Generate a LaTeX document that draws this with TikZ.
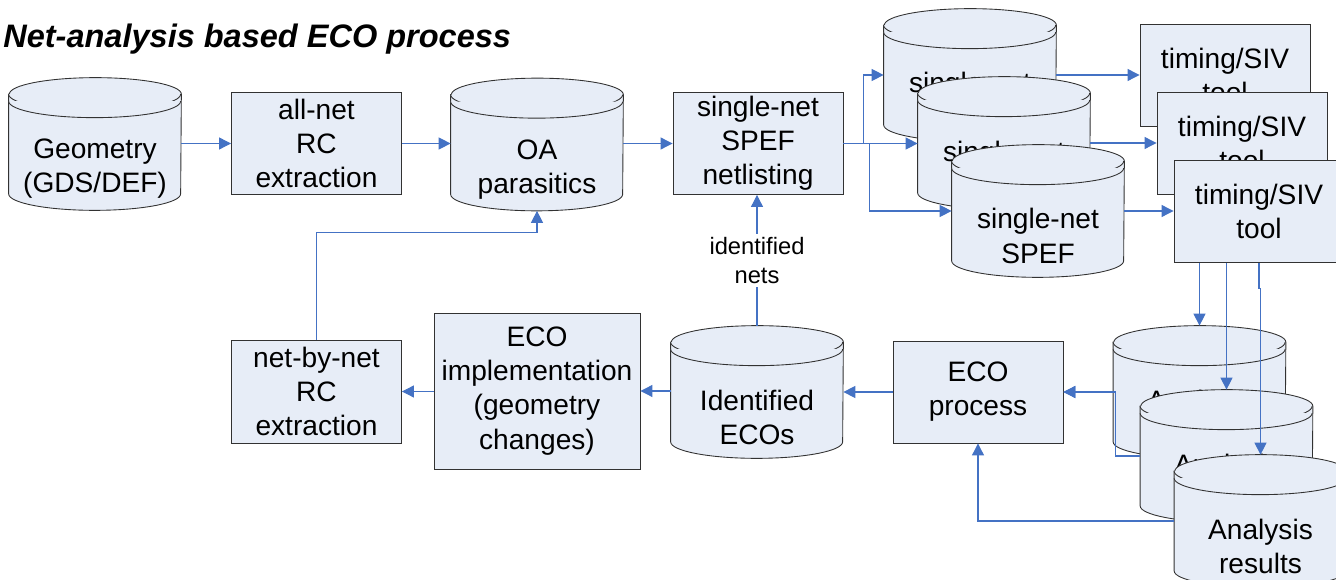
\documentclass[tikz,border=0pt]{standalone}
\usepackage{fontspec}
\setmainfont{Liberation Sans}
\usetikzlibrary{arrows.meta}
\usetikzlibrary{calc}

\definecolor{boxfill}{RGB}{231,237,247}
\definecolor{boxline}{RGB}{50,50,50}
\definecolor{linkblue}{RGB}{68,114,196}

\newcommand{\bodyfont}{\fontsize{16}{19.4}\selectfont}
\newcommand{\labelfont}{\fontsize{13.5}{16.5}\selectfont}

% database cylinder: name, centre, text
\newcommand{\dbcyl}[3]{%
  \node[dbarea] (#1) at (#2) {};
  \filldraw[dbline]
    ([yshift=-0.33cm]#1.north west) -- ([yshift=0.33cm]#1.south west)
    arc[start angle=180, end angle=360, x radius=1.72cm, y radius=0.33cm]
    -- ([yshift=-0.33cm]#1.north east)
    arc[start angle=0, end angle=180, x radius=1.72cm, y radius=0.33cm] -- cycle;
  \draw[dbline] ([yshift=-0.33cm]#1.north west)
    arc[start angle=180, end angle=360, x radius=1.72cm, y radius=0.33cm];
  \draw[dbline] ([yshift=-0.47cm]#1.north west)
    arc[start angle=180, end angle=360, x radius=1.72cm, y radius=0.33cm];
  \node[dbtext] (#1-t) at ([yshift=-0.5cm]#1.center) {#3};
}

\tikzset{
  procbox/.style={draw=boxline, fill=boxfill, line width=0.5pt, minimum width=3.4cm,
    minimum height=2.04cm, inner sep=0pt, align=center, font=\bodyfont},
  dbarea/.style={minimum width=3.44cm, minimum height=2.64cm, inner sep=0pt},
  dbline/.style={draw=boxline, fill=boxfill, line width=0.5pt},
  dbtext/.style={inner sep=0pt, align=center, font=\bodyfont},
  conn/.style={linkblue, line width=0.6pt, -{Triangle[length=0.24cm,width=0.24cm]}},
}

\begin{document}
\begin{tikzpicture}
	\useasboundingbox (0,0) rectangle (26.72,11.6);

	\node[anchor=base west, inner sep=0pt, font=\fontsize{18.5}{22}\selectfont\bfseries\itshape]
		(title) at (0.06,10.64) {Net-analysis based ECO process};

	% top row
	\dbcyl{geom}{1.9,8.72}{Geometry\\(GDS/DEF)}
	\node[procbox] (allnet) at (6.33,8.73) {all-net\\RC\\extraction};
	\dbcyl{oa}{10.74,8.71}{OA\\parasitics}
	\node[procbox] (netlist) at (15.16,8.73) {single-net\\SPEF\\netlisting};

	\dbcyl{spef1}{19.4,10.1}{single-net\\SPEF}
	\dbcyl{spef2}{20.08,8.74}{single-net\\SPEF}
	\dbcyl{spef3}{20.76,7.38}{single-net\\SPEF}

	\node[procbox] (tim1) at (24.5,10.09) {timing/SIV\\tool};
	\node[procbox] (tim2) at (24.84,8.73) {timing/SIV\\tool};
	\node[procbox] (tim3) at (25.18,7.37) {timing/SIV\\tool};

	% bottom row
	\dbcyl{ana1}{23.99,3.76}{Analysis\\results}
	\dbcyl{ana2}{24.53,2.48}{Analysis\\results}
	\dbcyl{ana3}{25.21,1.18}{Analysis\\results}

	\node[procbox] (ecoproc) at (19.56,3.76) {ECO\\process};
	\dbcyl{ideco}{15.14,3.76}{Identified\\ECOs}
	\node[procbox, minimum width=4.12cm, minimum height=3.12cm] (ecoimpl) at (10.74,3.78)
		{ECO\\implementation\\(geometry\\changes)};
	\node[procbox, minimum height=2.06cm] (netbynet) at (6.33,3.77) {net-by-net\\RC\\extraction};

	% links
	\draw[conn] (geom.east |- allnet.west) -- (allnet.west);
	\draw[conn] (allnet.east) -- (allnet.east -| oa.west);
	\draw[conn] (oa.east |- netlist.west) -- (netlist.west);

	\draw[conn] (netlist.east) -- ++(0.4,0) |- (spef1.west);
	\draw[conn] (netlist.east) -- (netlist.east -| spef2.west);
	\draw[conn] (netlist.east) -- ++(0.52,0) |- (spef3.west);

	\draw[conn] (spef1.east) -- (spef1.east -| tim1.west);
	\draw[conn] (spef2.east) -- (spef2.east -| tim2.west);
	\draw[conn] (spef3.east) -- (spef3.east -| tim3.west);

	\draw[conn] (tim3.south -| ana1.north) -- (ana1.north);
	\draw[conn] (tim3.south -| ana2.north) -- (ana2.north);
	\draw[conn] (tim3.south) -- ++(0,-0.52) -| (ana3.north);

	\draw[conn] (ana1.west |- ecoproc.east) -- (ecoproc.east);
	\draw[conn] (ana2.west) -- ++(-0.5,0) |- (ecoproc.east);
	\draw[conn] (ana3.west) -| (ecoproc.south);

	\draw[conn] (ecoproc.west) -- (ecoproc.west -| ideco.east);
	\draw[conn] (ideco.west |- ecoimpl.east) -- (ecoimpl.east);
	\draw[conn] (ecoimpl.west |- netbynet.east) -- (netbynet.east);
	\draw[conn] (netbynet.north) -- ++(0,2.14) -| (oa.south);

	\draw[conn] (ideco.north) -- (ideco.north |- netlist.south)
		node[midway, fill=white, text=black, inner sep=2pt, align=center, font=\labelfont] (idnets) {identified\\nets};
\end{tikzpicture}
\end{document}
